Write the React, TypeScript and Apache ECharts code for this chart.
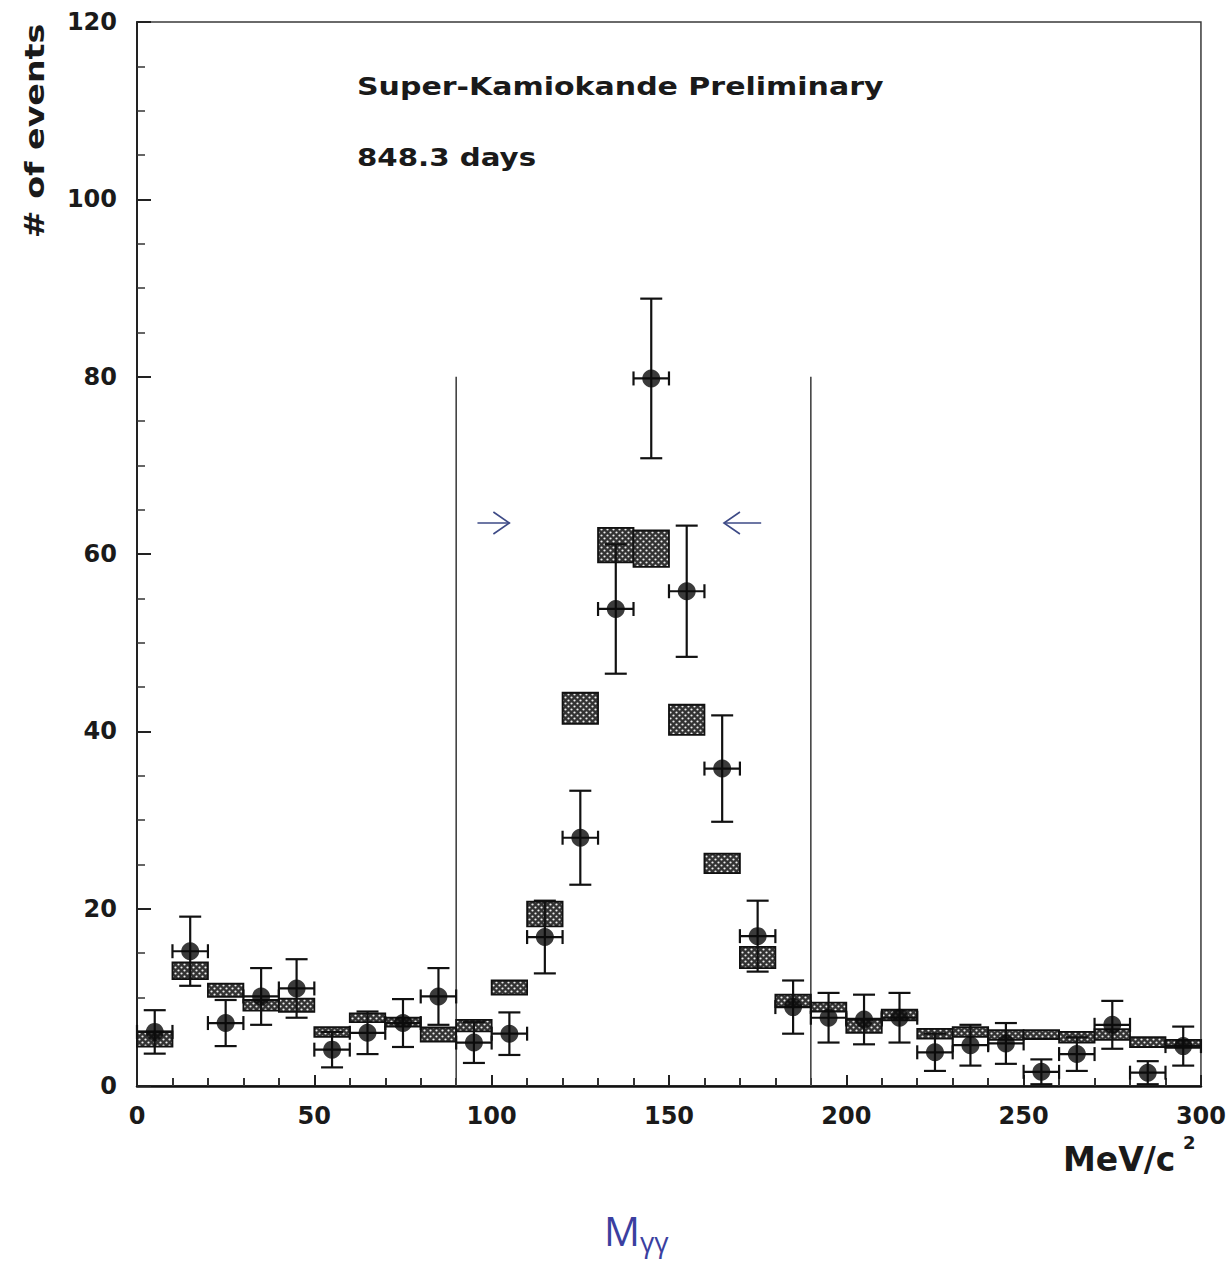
import { useEffect, useRef } from "react";
import * as echarts from "echarts";

// Invariant-mass bins (MeV/c^2), 10 MeV wide
const binCenters = [
  5, 15, 25, 35, 45, 55, 65, 75, 85, 95, 105, 115, 125, 135, 145, 155, 165, 175, 185, 195,
  205, 215, 225, 235, 245, 255, 265, 275, 285, 295,
];
const binHalfWidth = 5;

// Observed events per bin and their statistical errors
const observed = [
  6.1, 15.2, 7.1, 10.1, 11.0, 4.1, 6.0, 7.1, 10.1, 4.9, 5.9, 16.8, 28.0, 53.8, 79.8, 55.8, 35.8,
  16.9, 8.9, 7.7, 7.5, 7.7, 3.8, 4.6, 4.8, 1.6, 3.6, 6.9, 1.5, 4.5,
];
const observedErr = [
  2.45, 3.9, 2.6, 3.2, 3.3, 2.0, 2.4, 2.7, 3.2, 2.3, 2.4, 4.1, 5.3, 7.3, 9.0, 7.4, 6.0, 4.0, 3.0,
  2.8, 2.8, 2.8, 2.1, 2.3, 2.3, 1.4, 1.9, 2.7, 1.3, 2.2,
];

// Monte Carlo expectation per bin with its half-height (MC statistics)
const mcExpected = [
  5.3, 13.0, 10.8, 9.1, 9.1, 6.1, 7.7, 7.2, 5.8, 6.8, 11.1, 19.4, 42.6, 61.0, 60.6, 41.3, 25.1,
  14.5, 9.6, 8.9, 6.8, 8.0, 5.9, 6.1, 5.75, 5.8, 5.5, 5.8, 4.95, 4.75,
];
const mcErr = [
  0.85, 0.95, 0.75, 0.6, 0.75, 0.55, 0.5, 0.5, 0.8, 0.65, 0.8, 1.4, 1.75, 1.95, 2.05, 1.7, 1.1,
  1.2, 0.7, 0.5, 0.8, 0.6, 0.55, 0.55, 0.55, 0.5, 0.6, 0.6, 0.55, 0.45,
];

// pi0 mass window cut and the arrows marking it: [tail, tip, height]
const cutEdges = [90, 190];
const cutTop = 80;
const cutArrows = [
  [96, 105, 63.5],
  [176, 165.5, 63.5],
];

const FONT = "DejaVu Sans";
const ARROW_COLOR = "#3d4a86";

const hatchTile =
  "data:image/svg+xml;charset=utf-8," +
  encodeURIComponent(
    "<svg xmlns='http://www.w3.org/2000/svg' width='6' height='6'>" +
      "<rect width='6' height='6' fill='#333333'/>" +
      "<circle cx='1.5' cy='1.5' r='1.1' fill='#eeeeee'/>" +
      "<circle cx='4.5' cy='4.5' r='1.1' fill='#eeeeee'/>" +
      "</svg>"
  );

export default function App() {
  const ref = useRef<HTMLDivElement>(null);

  useEffect(() => {
    if (!ref.current) return;
    const chart = echarts.init(ref.current, undefined, { renderer: "svg" });

    const mcData = binCenters.map((c, i) => [c, mcExpected[i], mcErr[i]]);
    const obsData = binCenters.map((c, i) => [c, observed[i], observedErr[i]]);

    const option: echarts.EChartsOption = {
      animation: false,
      backgroundColor: "#ffffff",
      grid: {
        left: 137,
        top: 22,
        width: 1065,
        height: 1064,
        show: true,
        borderColor: "#3a3a3a",
        borderWidth: 1.5,
      },
      xAxis: {
        type: "value",
        min: 0,
        max: 300,
        interval: 50,
        axisLine: { show: true, lineStyle: { color: "#111", width: 2.5 } },
        axisTick: { show: true, inside: true, length: 11, lineStyle: { color: "#222", width: 2 } },
        minorTick: { show: true, splitNumber: 5, length: 8, lineStyle: { color: "#333", width: 2 } },
        splitLine: { show: false },
        axisLabel: {
          margin: 18,
          fontFamily: FONT,
          fontWeight: "bold",
          fontSize: 24,
          color: "#1a1a1a",
        },
      },
      yAxis: {
        type: "value",
        min: 0,
        max: 120,
        interval: 20,
        axisLine: { show: true, lineStyle: { color: "#222", width: 2 } },
        axisTick: { show: true, inside: true, length: 14, lineStyle: { color: "#222", width: 2 } },
        minorTick: { show: true, splitNumber: 4, length: 8, lineStyle: { color: "#333", width: 1.5 } },
        splitLine: { show: false },
        axisLabel: {
          margin: 20,
          fontFamily: FONT,
          fontWeight: "bold",
          fontSize: 24,
          color: "#1a1a1a",
        },
      },
      series: [
        {
          name: "cut",
          type: "custom",
          coordinateSystem: "cartesian2d",
          data: cutEdges.map((x) => [x, cutTop]),
          renderItem: (params: any, api: any) => {
            const b = api.coord([api.value(0), 0]);
            const t = api.coord([api.value(0), api.value(1)]);
            return {
              type: "line",
              shape: { x1: b[0], y1: b[1], x2: t[0], y2: t[1] },
              style: { stroke: "#444", lineWidth: 1.6 },
            };
          },
          z: 1,
        },
        {
          name: "arrows",
          type: "custom",
          coordinateSystem: "cartesian2d",
          data: cutArrows,
          renderItem: (params: any, api: any) => {
            const tail = api.coord([api.value(0), api.value(2)]);
            const tip = api.coord([api.value(1), api.value(2)]);
            const dir = tip[0] > tail[0] ? 1 : -1;
            return {
              type: "group",
              children: [
                {
                  type: "line",
                  shape: { x1: tail[0], y1: tail[1], x2: tip[0], y2: tip[1] },
                  style: { stroke: ARROW_COLOR, lineWidth: 1.6 },
                },
                {
                  type: "polyline",
                  shape: {
                    points: [
                      [tip[0] - dir * 16, tip[1] - 11],
                      [tip[0], tip[1]],
                      [tip[0] - dir * 16, tip[1] + 11],
                    ],
                  },
                  style: { stroke: ARROW_COLOR, lineWidth: 1.6, fill: "none" },
                },
              ],
            };
          },
          z: 2,
        },
        {
          name: "MC",
          type: "custom",
          coordinateSystem: "cartesian2d",
          data: mcData,
          renderItem: (params: any, api: any) => {
            const c = api.value(0);
            const v = api.value(1);
            const e = api.value(2);
            const tl = api.coord([c - binHalfWidth, v + e]);
            const br = api.coord([c + binHalfWidth, v - e]);
            return {
              type: "rect",
              shape: { x: tl[0], y: tl[1], width: br[0] - tl[0], height: br[1] - tl[1] },
              style: {
                fill: {
                  image: hatchTile,
                  repeat: "repeat",
                  imageWidth: 6,
                  imageHeight: 6,
                } as any,
                stroke: "#111",
                lineWidth: 1.8,
              },
            };
          },
          z: 3,
        },
        {
          name: "data errors",
          type: "custom",
          coordinateSystem: "cartesian2d",
          data: obsData,
          renderItem: (params: any, api: any) => {
            const x = api.value(0);
            const y = api.value(1);
            const e = api.value(2);
            const top = api.coord([x, y + e]);
            const bot = api.coord([x, Math.max(0, y - e)]);
            const l = api.coord([x - binHalfWidth, y]);
            const r = api.coord([x + binHalfWidth, y]);
            const s = { stroke: "#111", lineWidth: 2.2 };
            const capW = 11;
            const capH = 7;
            return {
              type: "group",
              children: [
                { type: "line", shape: { x1: top[0], y1: top[1], x2: bot[0], y2: bot[1] }, style: s },
                { type: "line", shape: { x1: top[0] - capW, y1: top[1], x2: top[0] + capW, y2: top[1] }, style: s },
                { type: "line", shape: { x1: bot[0] - capW, y1: bot[1], x2: bot[0] + capW, y2: bot[1] }, style: s },
                { type: "line", shape: { x1: l[0], y1: l[1], x2: r[0], y2: r[1] }, style: s },
                { type: "line", shape: { x1: l[0], y1: l[1] - capH, x2: l[0], y2: l[1] + capH }, style: s },
                { type: "line", shape: { x1: r[0], y1: r[1] - capH, x2: r[0], y2: r[1] + capH }, style: s },
              ],
            };
          },
          z: 4,
        },
        {
          name: "data",
          type: "scatter",
          data: obsData.map((d) => [d[0], d[1]]),
          symbol: "circle",
          symbolSize: 18,
          itemStyle: { color: "#0a0a0a" },
          z: 5,
        },
      ],
      graphic: [
        {
          type: "text",
          x: 357,
          y: 87,
          scaleX: 1.25,
          style: {
            text: "Super-Kamiokande Preliminary",
            font: `bold 24px "${FONT}"`,
            fill: "#1a1a1a",
            textAlign: "left",
            textVerticalAlign: "middle",
          },
        },
        {
          type: "text",
          x: 357,
          y: 157,
          scaleX: 1.22,
          style: {
            text: "848.3 days",
            font: `bold 24px "${FONT}"`,
            fill: "#1a1a1a",
            textAlign: "left",
            textVerticalAlign: "middle",
          },
        },
        {
          type: "text",
          x: 35,
          y: 131,
          rotation: Math.PI / 2,
          scaleX: 1.28,
          style: {
            text: "# of events",
            font: `bold 26px "${FONT}"`,
            fill: "#1a1a1a",
            textAlign: "center",
            textVerticalAlign: "middle",
          },
        },
        {
          type: "text",
          x: 1063,
          y: 1159,
          style: {
            text: "MeV/c",
            font: `bold 33px "${FONT}"`,
            fill: "#1a1a1a",
            textAlign: "left",
            textVerticalAlign: "middle",
          },
        },
        {
          type: "text",
          x: 1183,
          y: 1142,
          style: {
            text: "2",
            font: `bold 18px "${FONT}"`,
            fill: "#1a1a1a",
            textAlign: "left",
            textVerticalAlign: "middle",
          },
        },
        {
          type: "text",
          x: 604,
          y: 1230,
          style: {
            text: "M",
            font: `40px "Open Sans"`,
            fill: "#3b3fa0",
            textAlign: "left",
            textVerticalAlign: "middle",
          },
        },
        {
          type: "text",
          x: 640,
          y: 1241,
          style: {
            text: "γγ",
            font: `28px "Open Sans"`,
            fill: "#3b3fa0",
            textAlign: "left",
            textVerticalAlign: "middle",
          },
        },
      ],
    };

    chart.setOption(option);
    return () => chart.dispose();
  }, []);

  return (
    <div
      ref={ref}
      style={{ position: "absolute", left: 0, top: 0, width: 1229, height: 1266, background: "#fff" }}
    />
  );
}
